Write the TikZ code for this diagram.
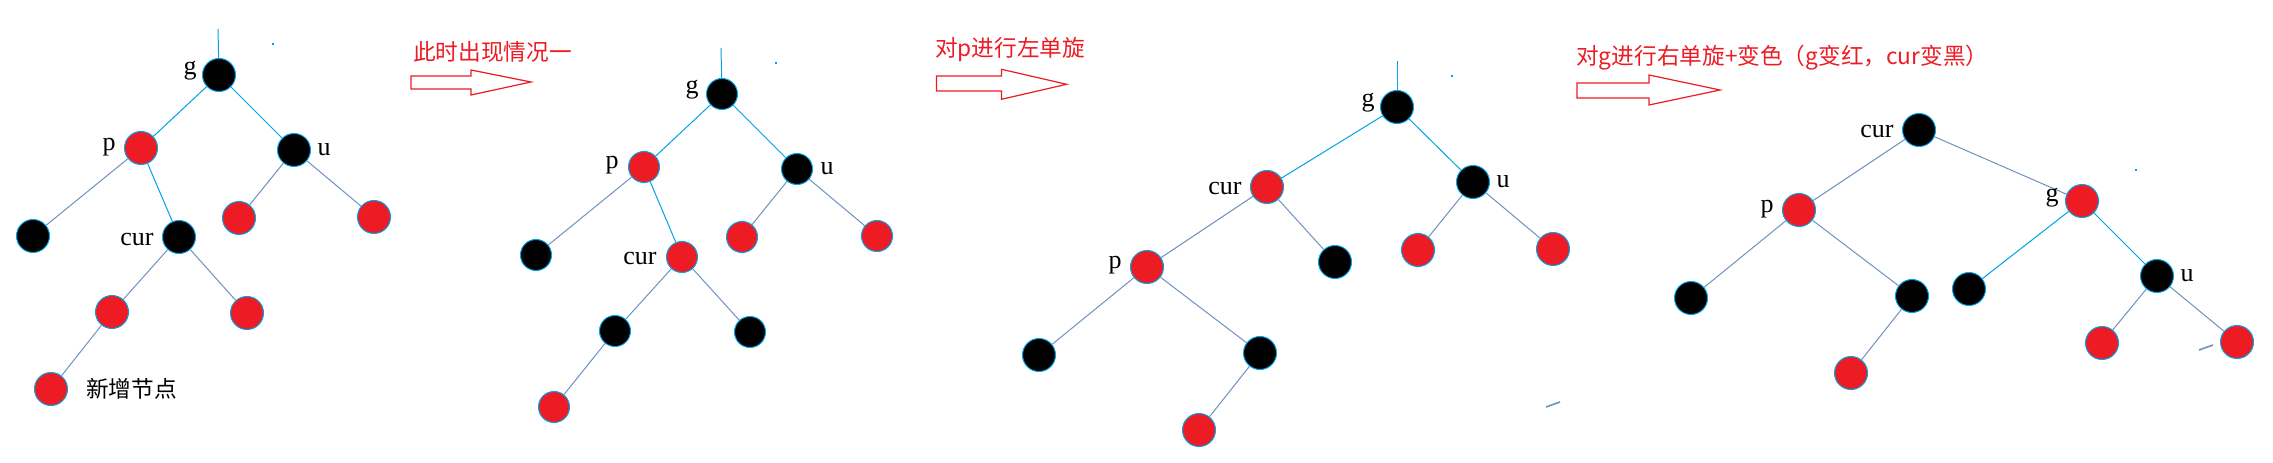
\documentclass[tikz,border=0pt]{standalone}
\usepackage{fontspec}
\setmainfont{Liberation Serif}
\newfontfamily\cjk{Noto Sans CJK SC}
\definecolor{pred}{RGB}{237,28,36}
\definecolor{cyanc}{RGB}{0,162,232}
\definecolor{slate}{RGB}{112,146,190}
\begin{document}
\begin{tikzpicture}[x=0.75pt,y=-0.75pt,
  rn/.style={circle,draw=cyanc,line width=0.75pt,fill=pred,minimum size=24.75pt,inner sep=0pt},
  bn/.style={circle,draw=cyanc,line width=0.75pt,fill=black,minimum size=24.75pt,inner sep=0pt},
  small/.style={minimum size=23.25pt},
  lab/.style={inner sep=0pt,font=\fontsize{19.5}{20}\selectfont},
  cy/.style={draw=cyanc,line width=0.75pt},
  sl/.style={draw=slate,line width=0.75pt},
  note/.style={inner sep=0pt,anchor=west,text=pred,font=\cjk\fontsize{17}{20}\selectfont},
  bigarrow/.style={draw=pred,line width=0.9pt,fill=white,line join=miter}
]
\useasboundingbox (0,0) rectangle (2273,463);
\fill[white] (0,0) rectangle (2273,463);

% ---------- Panel 1 ----------
\node[bn] (Ag) at (219,75) {};
\node[rn] (Ap) at (141,148) {};
\node[bn] (Au) at (294,150) {};
\node[bn] (Apl) at (33,236) {};
\node[bn] (Acur) at (179,237) {};
\node[rn] (Aul) at (239,218) {};
\node[rn] (Aur) at (374,217) {};
\node[rn] (Acl) at (112,312) {};
\node[rn] (Acr) at (247,313) {};
\node[rn] (Anew) at (51,389) {};
\coordinate (Atop) at (218,29);
\draw[cy] (Atop) -- (Ag);
\draw[cy] (Ag) -- (Ap);
\draw[cy] (Ag) -- (Au);
\draw[cy] (Ap) -- (Acur);
\draw[sl] (Ap) -- (Apl);
\draw[sl] (Au) -- (Aul);
\draw[sl] (Au) -- (Aur);
\draw[sl] (Acur) -- (Acl);
\draw[sl] (Acur) -- (Acr);
\draw[sl] (Acl) -- (Anew);
\node[lab] (Agl) at (190,70.5) {g};
\node[lab] (Apll) at (109,147) {p};
\node[lab] (Aulb) at (324,149.5) {u};
\node[lab] (Acurl) at (137,239.5) {cur};
\node[inner sep=0pt,anchor=west,font=\cjk\fontsize{17}{20}\selectfont] (Anewl) at (86,389) {新增节点};
\fill[cyanc] (272,43.5) rectangle (274,45);

% ---------- Arrow 1 ----------
\node[note] (T1) at (413,52) {此时出现情况一};
\draw[bigarrow] (411,76) -- (471,76) -- (471,70) -- (531,82) -- (471,95) -- (471,89) -- (411,89) -- cycle;

% ---------- Panel 2 ----------
\node[bn,small] (Bg) at (722,94) {};
\node[rn,small] (Bp) at (644,167) {};
\node[bn,small] (Bu) at (797,169) {};
\node[bn,small] (Bpl) at (536,255) {};
\node[rn,small] (Bcur) at (682,257) {};
\node[rn,small] (Bul) at (742,237) {};
\node[rn,small] (Bur) at (877,236) {};
\node[bn,small] (Bcl) at (615,331) {};
\node[bn,small] (Bcr) at (750,332) {};
\node[rn,small] (Bbot) at (554,407) {};
\coordinate (Btop) at (721,48);
\draw[cy] (Btop) -- (Bg);
\draw[cy] (Bg) -- (Bp);
\draw[cy] (Bg) -- (Bu);
\draw[cy] (Bp) -- (Bcur);
\draw[sl] (Bp) -- (Bpl);
\draw[sl] (Bu) -- (Bul);
\draw[sl] (Bu) -- (Bur);
\draw[sl] (Bcur) -- (Bcl);
\draw[sl] (Bcur) -- (Bcr);
\draw[sl] (Bcl) -- (Bbot);
\node[lab] (Bgl) at (692,90) {g};
\node[lab] (Bpll) at (612,165.5) {p};
\node[lab] (Bulb) at (827,169) {u};
\node[lab] (Bcurl) at (640,258.5) {cur};
\fill[cyanc] (775,62.5) rectangle (777,64);

% ---------- Arrow 2 ----------
\node[note] (T2) at (935,50) {对p进行左单旋};
\draw[bigarrow] (936.5,76) -- (1001.5,76) -- (1001.5,69.3) -- (1066.6,84.3) -- (1001.5,99.3) -- (1001.5,91) -- (936.5,91) -- cycle;

% ---------- Panel 3 ----------
\node[bn] (Cg) at (1397,107) {};
\node[rn] (Ccur) at (1267,187) {};
\node[bn] (Cu) at (1473,182) {};
\node[rn] (Cp) at (1147,267) {};
\node[bn] (Ccr) at (1335,262) {};
\node[rn] (Cul) at (1418,250) {};
\node[rn] (Cur) at (1553,249) {};
\node[bn] (Cpl) at (1039,355) {};
\node[bn] (Cpr) at (1260,353) {};
\node[rn] (Cbot) at (1199,430) {};
\coordinate (Ctop) at (1397,61);
\draw[cy] (Ctop) -- (Cg);
\draw[cy] (Cg) -- (Ccur);
\draw[cy] (Cg) -- (Cu);
\draw[sl] (Ccur) -- (Cp);
\draw[sl] (Ccur) -- (Ccr);
\draw[sl] (Cu) -- (Cul);
\draw[sl] (Cu) -- (Cur);
\draw[sl] (Cp) -- (Cpl);
\draw[sl] (Cp) -- (Cpr);
\draw[sl] (Cpr) -- (Cbot);
\node[lab] (Cgl) at (1368,103) {g};
\node[lab] (Ccurl) at (1225,188.5) {cur};
\node[lab] (Culb) at (1503,182) {u};
\node[lab] (Cpll) at (1115,265.5) {p};
\fill[cyanc] (1451,75.5) rectangle (1453,77);
\coordinate (Cs1) at (1546,407);
\coordinate (Cs2) at (1560,402);
\draw[sl,line width=1.2pt] (Cs1) -- (Cs2);

% ---------- Arrow 3 ----------
\node[note] (T3) at (1576,58) {对g进行右单旋+变色（g变红，cur变黑）};
\draw[bigarrow] (1577,83) -- (1649,83) -- (1649,75) -- (1720,90) -- (1649,105) -- (1649,98) -- (1577,98) -- cycle;

% ---------- Panel 4 ----------
\node[bn] (Dcur) at (1919,130) {};
\node[rn] (Dp) at (1799,210) {};
\node[rn] (Dg) at (2082,201) {};
\node[bn] (Dpl) at (1691,298) {};
\node[bn] (Dpr) at (1912,296) {};
\node[rn] (Dbot) at (1851,373) {};
\node[bn] (Dgl) at (1969,289) {};
\node[bn] (Du) at (2157,276) {};
\node[rn] (Dul) at (2102,343) {};
\node[rn] (Dur) at (2237,342) {};
\draw[sl] (Dcur) -- (Dp);
\draw[sl] (Dcur) -- (Dg);
\draw[sl] (Dp) -- (Dpl);
\draw[sl] (Dp) -- (Dpr);
\draw[sl] (Dpr) -- (Dbot);
\draw[cy] (Dg) -- (Dgl);
\draw[cy] (Dg) -- (Du);
\draw[sl] (Du) -- (Dul);
\draw[sl] (Du) -- (Dur);
\node[lab] (Dcurl) at (1877,131.5) {cur};
\node[lab] (Dpll) at (1767,209.5) {p};
\node[lab] (Dgll) at (2052,197.5) {g};
\node[lab] (Dulb) at (2187,275.5) {u};
\fill[cyanc] (2135,169.5) rectangle (2137,171);
\coordinate (Ds1) at (2199,350);
\coordinate (Ds2) at (2213,345);
\draw[sl,line width=1.2pt] (Ds1) -- (Ds2);
\end{tikzpicture}
\end{document}
